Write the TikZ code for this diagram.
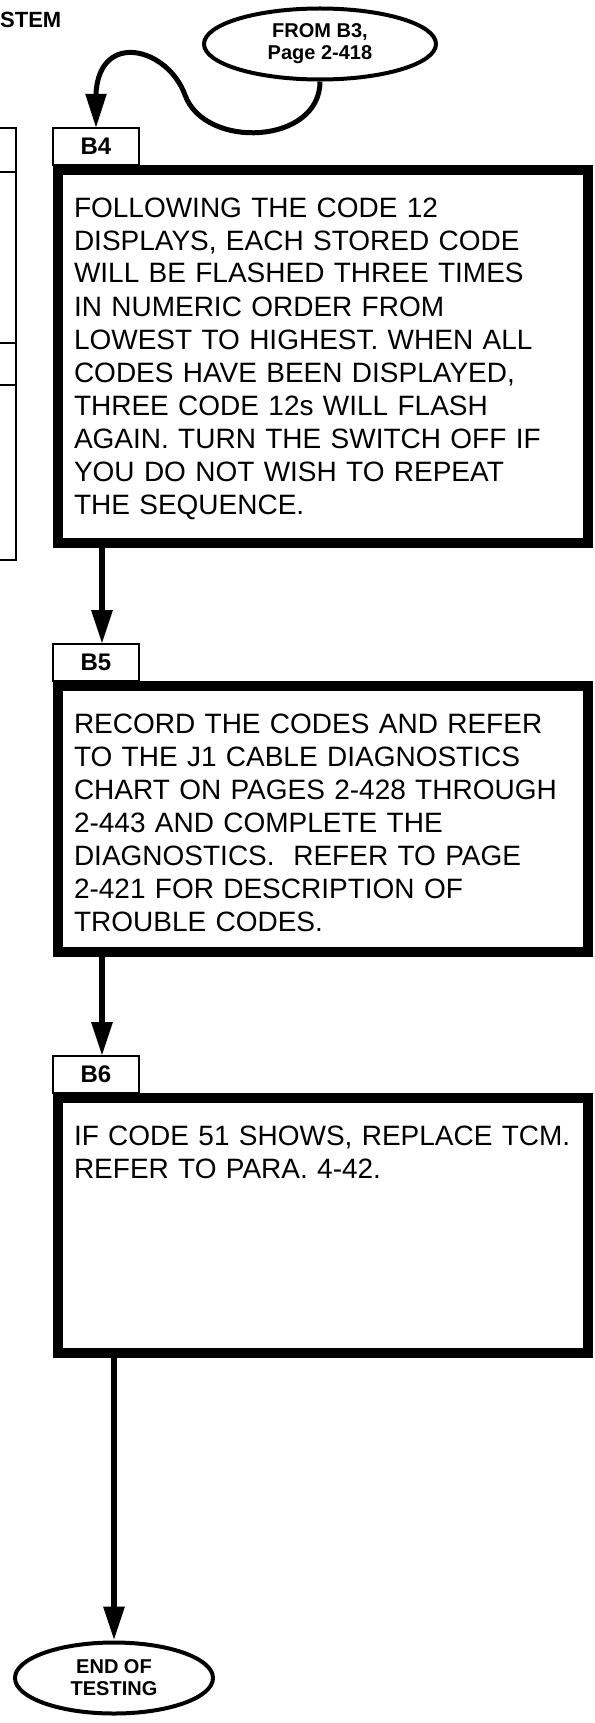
\documentclass[tikz,border=0pt]{standalone}
\usepackage{fontspec}
\setmainfont{Liberation Sans}
\usetikzlibrary{positioning,shapes.geometric,arrows.meta}
\frenchspacing

\begin{document}
\begin{tikzpicture}[x=1pt, y=-1pt, >={Triangle[length=34pt,width=20pt]},
  box/.style={draw, line width=10pt, text width=498pt, align=left, inner xsep=16pt, inner ysep=0pt,
    text height=47pt, font=\fontsize{28}{33}\selectfont},
  tab/.style={draw, line width=2.5pt, minimum width=86pt, minimum height=37pt, inner sep=0pt,
    outer sep=0pt, font=\bfseries\fontsize{24}{24}\selectfont},
  term/.style={draw, ellipse, line width=4pt, inner sep=0pt, align=center,
    font=\bfseries\fontsize{20}{22}\selectfont},
  flow/.style={->, line width=6pt}]
  \useasboundingbox (0,0) rectangle (594,1723);

  \node [font=\bfseries\fontsize{22}{22}\selectfont, anchor=base west, inner sep=0pt] (H) at (0,28) {STEM};
  \draw [line width=2.5pt] (0,128) -| (16,560) -- (0,560);
  \draw [line width=2.5pt] (0,172) -- (16,172) (0,343) -- (16,343) (0,385) -- (16,385);

  \node [term, minimum width=232pt, minimum height=71pt] (F) at (320,44) {FROM B3,\\Page 2-418};

  \node [box, anchor=north west, text depth=326pt] (B4) at (53,165) {FOLLOWING THE CODE 12\\
    DISPLAYS, EACH STORED CODE\\ WILL BE FLASHED THREE TIMES\\ IN NUMERIC ORDER FROM\\
    LOWEST TO HIGHEST. WHEN ALL\\ CODES HAVE BEEN DISPLAYED,\\ THREE CODE 12s WILL FLASH\\
    AGAIN. TURN THE SWITCH OFF IF\\ YOU DO NOT WISH TO REPEAT\\ THE SEQUENCE.};
  \node [tab, above right=0pt of B4.north west] (T4) {B4};

  \node [box, below=133pt of B4, text depth=219pt] (B5) {RECORD THE CODES AND REFER\\
    TO THE J1 CABLE DIAGNOSTICS\\ CHART ON PAGES 2-428 THROUGH\\ 2-443 AND COMPLETE THE\\
    DIAGNOSTICS.\ \ REFER TO PAGE\\ 2-421 FOR DESCRIPTION OF\\ TROUBLE CODES.};
  \node [tab, above right=0pt of B5.north west] (T5) {B5};

  \node [box, below=136pt of B5, text depth=208pt] (B6) {IF CODE 51 SHOWS, REPLACE TCM.\\
    REFER TO PARA. 4-42.};
  \node [tab, above right=0pt of B6.north west] (T6) {B6};

  \node [term, minimum width=198pt, minimum height=71pt] (E) at (114,1678) {END OF\\TESTING};

  \draw [->, line width=5pt] (F.south) .. controls +(0,63) and (205,150) .. (185,95)
    .. controls (168,48) and (100,30) .. ([yshift=35pt]T4.north) -- (T4.north);
  \draw [flow] ([xshift=6pt]T5.north |- B4.south) -- ([xshift=6pt]T5.north);
  \draw [flow] ([xshift=6pt]T6.north |- B5.south) -- ([xshift=6pt]T6.north);
  \draw [flow] (E.north |- B6.south) -- (E.north);
\end{tikzpicture}
\end{document}
